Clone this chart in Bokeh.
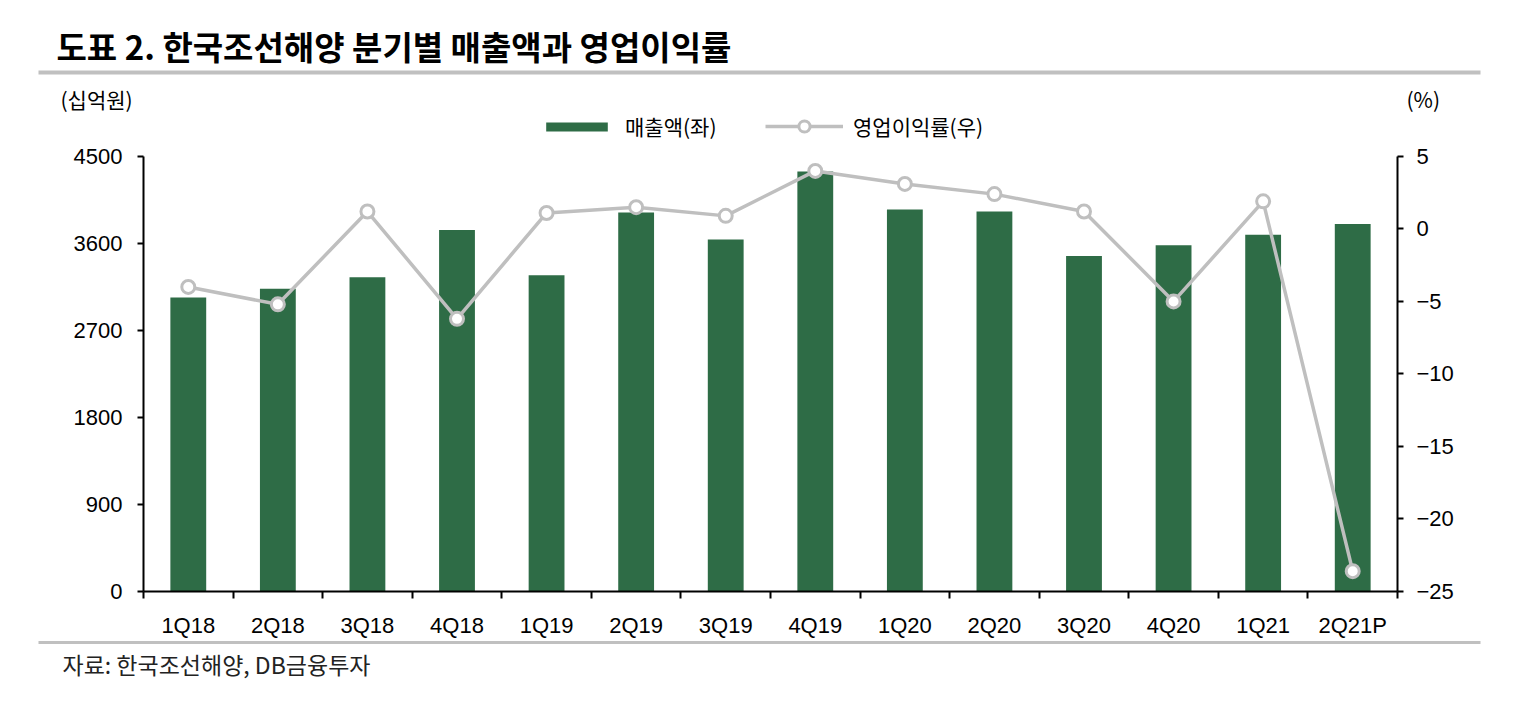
from bokeh.plotting import figure
from bokeh.models import (Range1d, LinearAxis, FixedTicker, Legend, LegendItem,
                          Label, BoxAnnotation, ColumnDataSource, Spacer)
from bokeh.layouts import column, row
from bokeh.embed import file_html
from bokeh.resources import INLINE

# ---- data ----
quarters = ["1Q18", "2Q18", "3Q18", "4Q18", "1Q19", "2Q19", "3Q19", "4Q19",
            "1Q20", "2Q20", "3Q20", "4Q20", "1Q21", "2Q21P"]
sales = [3040, 3130, 3250, 3740, 3270, 3920, 3640, 4345, 3950, 3930, 3470, 3580, 3690, 3800]
op_margin = [-4.0, -5.2, 1.2, -6.2, 1.1, 1.5, 0.9, 4.0, 3.1, 2.4, 1.2, -5.0, 1.9, -23.6]
left_ticks = [0, 900, 1800, 2700, 3600, 4500]
right_ticks = [-25, -20, -15, -10, -5, 0, 5]

title_text = "도표 2. 한국조선해양 분기별 매출액과 영업이익률"
left_unit = "(십억원)"
right_unit = "(%)"
source_text = "자료:  한국조선해양, DB금융투자"
legend_labels = ["매출액(좌)", "영업이익률(우)"]

KFONT = "Noto Sans CJK KR"
NFONT = "Liberation Sans"
GREEN = "#2E6C46"
GRAY = "#BFBFBF"
RULE = "#C0C0C0"

W = 1530
HEAD_H = 112
MAIN_H = 528
FOOT_H = 70
FRAME_L, FRAME_R = 143, 1397
FRAME_TOP_PAD = 44          # px between frame top and the 4500 / 5 tick
PLOT_H = 436                # px from 0 to 4500
SHIFT = 1                   # header/footer offset (keeps their frames independent)


def deco_figure(h):
    f = figure(width=W - 2 * SHIFT, height=h, x_range=Range1d(SHIFT, W - SHIFT),
               y_range=Range1d(h, 0), output_backend="svg", toolbar_location=None,
               x_axis_location=None, y_axis_location=None,
               min_border=0, min_border_left=0, min_border_right=0,
               min_border_top=0, min_border_bottom=0)
    f.grid.visible = False
    f.outline_line_color = None
    return f


# ---------- header ----------
head = deco_figure(HEAD_H)
head.add_layout(Label(x=56, y=45, text=title_text, text_font=KFONT, text_font_size="33px",
                      text_font_style="bold", text_baseline="middle", text_color="black"))
head.add_layout(BoxAnnotation(left=38, right=1480, top=70, bottom=74,
                              fill_color=RULE, fill_alpha=1, line_color=None))
head.add_layout(Label(x=60, y=98, text=left_unit, text_font=KFONT, text_font_size="21px",
                      text_baseline="middle", text_color="black"))
head.add_layout(Label(x=1406, y=98, text=right_unit, text_font=KFONT, text_font_size="21px",
                      text_baseline="middle", text_color="black"))

# ---------- main chart ----------
n = len(quarters)
xs = [i + 0.5 for i in range(n)]
src = ColumnDataSource(dict(x=xs, sales=sales, m=op_margin))

frame_h = PLOT_H + FRAME_TOP_PAD
y_end = left_ticks[-1] * frame_h / PLOT_H
r_span = right_ticks[-1] - right_ticks[0]
r_end = right_ticks[0] + r_span * frame_h / PLOT_H

p = figure(width=W, height=MAIN_H, x_range=Range1d(0, n), y_range=Range1d(0, y_end),
           output_backend="svg", toolbar_location=None,
           min_border_left=FRAME_L, min_border_right=W - FRAME_R,
           min_border_top=0, min_border_bottom=MAIN_H - frame_h)
p.extra_y_ranges = {"pct": Range1d(right_ticks[0], r_end)}
p.grid.visible = False
p.outline_line_color = None

xa = p.xaxis[0]
xa.ticker = FixedTicker(ticks=xs, minor_ticks=list(range(n + 1)))
xa.major_label_overrides = {x: q for x, q in zip(xs, quarters)}
xa.major_tick_out = 0
xa.major_tick_in = 0
xa.minor_tick_out = 7
xa.minor_tick_in = 0
xa.minor_tick_line_width = 2
xa.minor_tick_line_color = "black"
xa.axis_line_width = 2
xa.axis_line_color = "black"
xa.major_label_text_font = NFONT
xa.major_label_text_font_size = "22px"
xa.major_label_text_color = "black"
xa.major_label_standoff = 14

ya = p.yaxis[0]
ya.ticker = FixedTicker(ticks=left_ticks)
ya.bounds = (left_ticks[0], left_ticks[-1])
ya.major_tick_out = 6
ya.major_tick_in = 0
ya.major_tick_line_width = 2
ya.minor_tick_out = 0
ya.minor_tick_in = 0
ya.axis_line_width = 2
ya.axis_line_color = "black"
ya.major_label_text_font = NFONT
ya.major_label_text_font_size = "22px"
ya.major_label_text_color = "black"
ya.major_label_standoff = 15

ra = LinearAxis(y_range_name="pct", ticker=FixedTicker(ticks=right_ticks),
                bounds=(right_ticks[0], right_ticks[-1]))
ra.major_label_overrides = {t: str(t).replace("-", "\u2212") for t in right_ticks}
ra.major_tick_out = 6
ra.major_tick_in = 0
ra.major_tick_line_width = 2
ra.minor_tick_out = 0
ra.minor_tick_in = 0
ra.axis_line_width = 2
ra.axis_line_color = "black"
ra.major_label_text_font = NFONT
ra.major_label_text_font_size = "22px"
ra.major_label_text_color = "black"
ra.major_label_standoff = 13
p.add_layout(ra, "right")

bars = p.vbar(x="x", top="sales", width=0.4, source=src, fill_color=GREEN, line_color=None)
line = p.line(x="x", y="m", source=src, y_range_name="pct", line_color=GRAY, line_width=3.5)
dots = p.scatter(x="x", y="m", source=src, y_range_name="pct", size=13,
                 fill_color="white", line_color=GRAY, line_width=3)

common = dict(orientation="horizontal", label_standoff=10, padding=0, margin=0,
              border_line_color=None, background_fill_alpha=0,
              label_text_font=KFONT, label_text_font_size="21px", label_text_color="black")
leg1 = Legend(items=[LegendItem(label=legend_labels[0], renderers=[bars])],
              location=(395, 450), glyph_width=77, glyph_height=11, **common)
leg2 = Legend(items=[LegendItem(label=legend_labels[1], renderers=[line, dots])],
              location=(622, 450), glyph_width=78, glyph_height=28, **common)
p.add_layout(leg1)
p.add_layout(leg2)

# ---------- footer ----------
foot = deco_figure(FOOT_H)
foot.add_layout(BoxAnnotation(left=38, right=1480, top=0.5, bottom=3.5,
                              fill_color=RULE, fill_alpha=1, line_color=None))
foot.add_layout(Label(x=62, y=23, text=source_text, text_font=KFONT, text_font_size="23px",
                      text_baseline="middle", text_color="#222222"))

layout = column(row(Spacer(width=SHIFT, height=HEAD_H), head),
                p,
                row(Spacer(width=SHIFT, height=FOOT_H), foot), spacing=0)
open("out.html", "w").write(file_html(layout, INLINE))
